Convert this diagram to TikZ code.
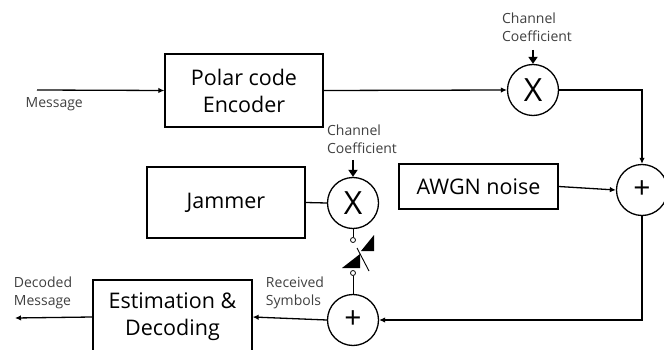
\documentclass[tikz,border=0pt]{standalone}
\usepackage{fontspec}
\setmainfont{Open Sans}
\usetikzlibrary{arrows.meta}
\begin{document}
\begin{tikzpicture}[x=1pt,y=-1pt,
  line width=1.3pt,
  blk/.style={draw, rectangle, inner sep=0pt, font=\fontsize{21.5}{27}\selectfont, align=center},
  op/.style={draw, circle, minimum size=51pt, inner sep=0pt},
  lbl/.style={font=\fontsize{14}{18}\selectfont, text=black!75, align=left, inner sep=0pt},
  sig/.style={-{Latex[length=6pt,width=5.5pt]}},
  coef/.style={line width=2pt, -{Triangle[length=7pt,width=9pt]}},
  tap/.style={draw, circle, minimum size=5pt, inner sep=0pt, line width=0.8pt}]
\useasboundingbox (0,0) rectangle (664,350);

% blocks
\node[blk, minimum width=158pt, minimum height=73pt] (enc) at (244,90.5) {Polar code\\Encoder};
\node[blk, minimum width=159pt, minimum height=45pt] (awgn) at (478.5,186.5) {AWGN noise};
\node[blk, minimum width=158pt, minimum height=71pt] (jam) at (226,202.5) {Jammer};
\node[blk, minimum width=159pt, minimum height=74pt] (est) at (172.5,317) {Estimation \&\\Decoding};

% multipliers and adders
\node[op, font=\fontsize{32}{32}\selectfont] (mulA) at (533,90) {X};
\node[op, font=\fontsize{32}{32}\selectfont] (mulB) at (353,203) {X};
\node[op, font=\fontsize{30}{30}\selectfont] (sumA) at (642,190) {+};
\node[op, font=\fontsize{30}{30}\selectfont] (sumB) at (353,320) {+};

% switch taps
\node[tap] (tapA) at (353,240) {};
\node[tap] (tapB) at (353,273) {};

% labels
\node[lbl] (ccA) at (537,27) {Channel\\Coefficient};
\node[lbl] (ccB) at (362,139) {Channel\\Coefficient};
\node[lbl, anchor=west] (msg) at (25,104) {Message};
\node[lbl] (rx) at (295,293) {Received\\Symbols};
\node[lbl] (dec) at (43,293) {Decoded\\Message};

\coordinate (inA) at (37,90);
\coordinate (outA) at (15,318);
\coordinate (cA) at (533,50);
\coordinate (cB) at (353,160);

% signal path
\draw[sig] (inA) -- (enc.west);
\draw[sig] (enc.east) -- (mulA.west);
\draw[sig] (mulA.east) -| (sumA.north);
\draw[sig] (awgn.east) -- (sumA.west);
\draw[sig] (sumA.south) |- (sumB.east);
\draw[sig] (sumB.west) -- (est.east);
\draw[sig] (est.west) -- (outA);
\draw (jam.east) -- (mulB.west);
\draw[coef] (cA) -- (mulA.north);
\draw[coef] (cB) -- (mulB.north);

% switch
\draw[line width=0.9pt] (mulB.south) -- (tapA.north);
\draw[line width=0.9pt] (tapB.south) -- (sumB.north);
\draw[line width=0.9pt] (357,248) -- (369,271);
\fill (342,268) -- (360,254) -- (360,268) -- cycle;
\fill (374,235) -- (374,251) -- (361,251) -- cycle;
\end{tikzpicture}
\end{document}
